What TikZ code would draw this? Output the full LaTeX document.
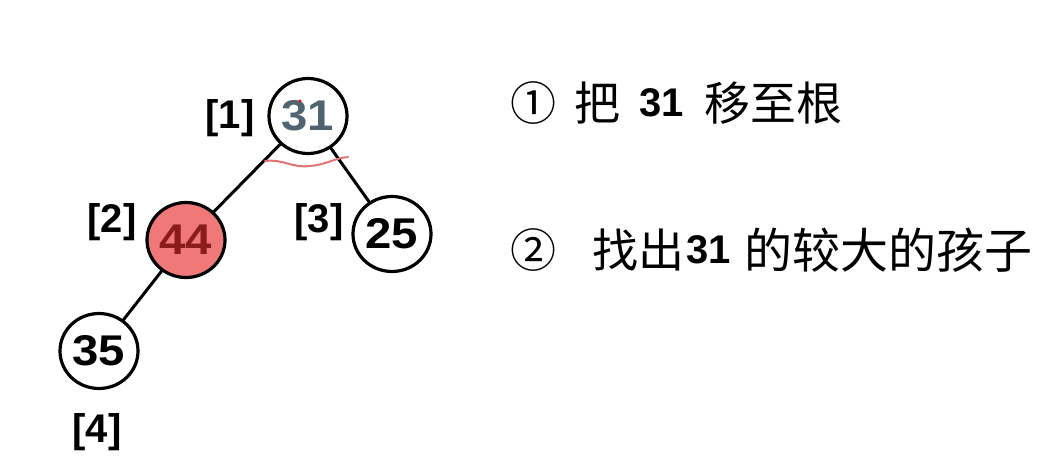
\documentclass[tikz,border=0pt]{standalone}
\usepackage{fontspec}
\setmainfont{Liberation Sans}
\newfontfamily\cjk{Noto Sans CJK SC}
\usetikzlibrary{shapes.geometric}
\definecolor{rootgray}{HTML}{4F6470}
\definecolor{redfill}{HTML}{F07878}
\definecolor{redtext}{HTML}{8A1C1C}
\definecolor{penred}{HTML}{E47272}
\newcommand{\wid}[1]{\scalebox{1.1}[1]{#1}}
\tikzset{
  nd/.style={ellipse, draw=black, line width=3.2pt, fill=white, minimum width=78pt, minimum height=75pt, inner sep=0pt,
    font=\fontsize{43}{50}\bfseries\selectfont},
  idx/.style={font=\fontsize{40}{48}\bfseries\selectfont, inner sep=0pt},
  edge/.style={draw=black, line width=3pt},
  cjktxt/.style={font=\fontsize{46}{52}\cjk\selectfont, inner sep=0pt, anchor=west, text=black},
  cjkb/.style={font=\fontsize{48}{54}\cjk\selectfont, inner sep=0pt, anchor=west, text=black},
  numtxt/.style={font=\fontsize{40}{48}\bfseries\selectfont, inner sep=0pt, anchor=west, text=black},
}
\begin{document}
\begin{tikzpicture}[x=1pt,y=-1pt]
\useasboundingbox (0,0) rectangle (1052,463);
% centres
\coordinate (c1) at (308,116);
\coordinate (c2) at (186,240);
\coordinate (c3) at (392,234);
\coordinate (c4) at (99,351);
\draw[edge] (c1) -- (c2);
\draw[edge] (c1) -- (c3);
\draw[edge] (c2) -- (c4);
% nodes
\node[nd, text=rootgray] (n1) at (c1) {\wid{31}};
\node[nd, fill=redfill, text=redtext] (n2) at (c2) {\wid{44}};
\node[nd] (n3) at (c3) {\wid{25}};
\node[nd] (n4) at (c4) {\wid{35}};
\fill[red] (300,101) circle (1.6);
% index labels
\node[idx] (l1) at (230,118) {[1]};
\node[idx] (l2) at (112,222) {[2]};
\node[idx] (l3) at (319,222) {[3]};
\node[idx] (l4) at (97,432) {[4]};
% pen mark
\draw[penred, line width=2pt, line cap=round] (265,161) .. controls (285,159) and (290,168) .. (310,166) .. controls (325,165) and (335,158) .. (348,157);
% text lines
\node[cjktxt] (t1a) at (510,103) {①};
\node[cjktxt] (t1b) at (574,103) {把};
\node[numtxt] (t1c) at (639,103) {31};
\node[cjktxt] (t1d) at (704,103) {移至根};
\node[cjktxt] (t2a) at (510,250) {②};
\node[cjktxt] (t2b) at (592,250) {找出};
\node[numtxt] (t2c) at (686,250) {31};
\node[cjkb] (t2d) at (744,250) {的较大的孩子};
\end{tikzpicture}
\end{document}
